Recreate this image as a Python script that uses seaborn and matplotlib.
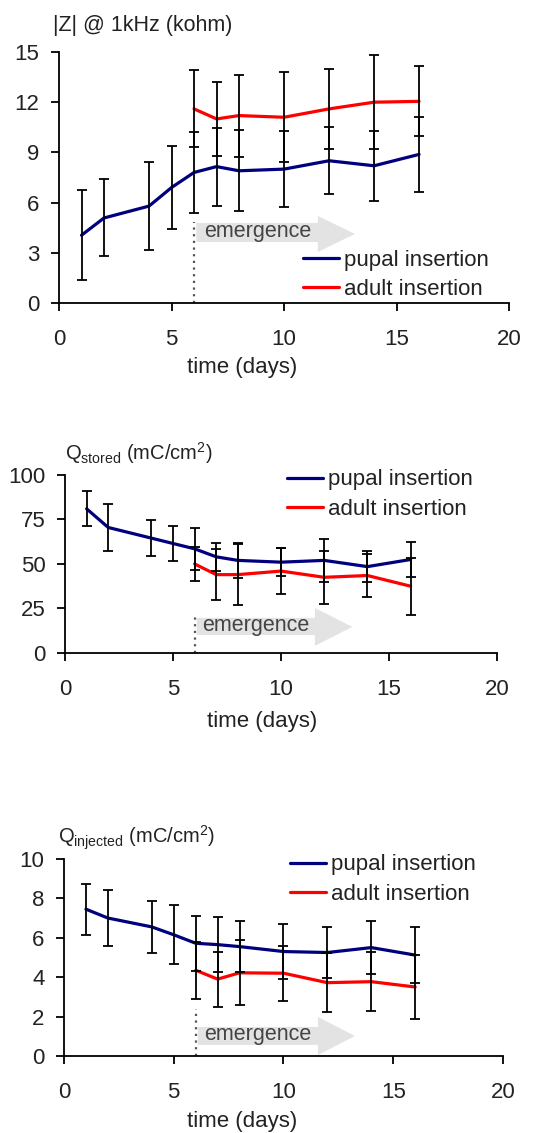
import matplotlib
matplotlib.use("Agg")
import matplotlib.pyplot as plt
import seaborn as sns
from matplotlib.patches import Polygon
import matplotlib.transforms as mtransforms

# ---------------- data ----------------
days_pupal = [1, 2, 4, 5, 6, 7, 8, 10, 12, 14, 16]
days_adult = [6, 7, 8, 10, 12, 14, 16]

z_pupal = [4.05, 5.08, 5.79, 6.9, 7.8, 8.15, 7.9, 8.0, 8.5, 8.2, 8.88]
z_pupal_err = [2.7, 2.3, 2.64, 2.5, 2.4, 2.33, 2.42, 2.25, 2.0, 2.1, 2.23]
z_adult = [11.6, 11.0, 11.2, 11.1, 11.6, 12.0, 12.05]
z_adult_err = [2.3, 2.2, 2.45, 2.7, 2.4, 2.8, 2.1]

qs_pupal = [81, 70.5, 64.5, 61.5, 58.5, 54, 52, 51, 52, 48.5, 52.5]
qs_pupal_err = [9.8, 13.4, 10.2, 9.7, 11.8, 8, 10, 8, 12, 8.5, 10]
qs_adult = [50, 44, 44, 46, 42.5, 43.5, 37.5]
qs_adult_err = [9.5, 14.5, 17, 13, 15, 12, 16]

qi_pupal = [7.45, 7.0, 6.55, 6.15, 5.72, 5.65, 5.55, 5.3, 5.25, 5.5, 5.12]
qi_pupal_err = [1.3, 1.4, 1.3, 1.5, 1.4, 1.4, 1.3, 1.4, 1.3, 1.35, 1.4]
qi_adult = [4.35, 3.9, 4.22, 4.2, 3.72, 3.77, 3.5]
qi_adult_err = [1.45, 1.4, 1.65, 1.4, 1.5, 1.5, 1.6]

series_labels = ["pupal insertion", "adult insertion"]
x_ticks = [0, 5, 10, 15, 20]
x_label = "time (days)"
emergence_day = 6
emergence_label = "emergence"

# ---------------- style ----------------
sns.set_style("ticks")
plt.rcParams["font.family"] = ["Liberation Sans", "DejaVu Sans"]
plt.rcParams["mathtext.default"] = "regular"
plt.rcParams["axes.linewidth"] = 1.3
FS = 16
BLUE = "#00007f"
RED = "#ff0000"
TXT = "#222222"

fig = plt.figure(figsize=(5.39, 11.33), dpi=100)

panels = [
    dict(rect=[0.1095, 0.7326, 0.835, 0.2215], yp=z_pupal, ype=z_pupal_err,
         ya=z_adult, yae=z_adult_err, yticks=[0, 3, 6, 9, 12, 15],
         ylabel="|Z| @ 1kHz (kohm)", ylab_pos=(53 / 539, 1 - 25 / 1133), ylab_fs=15.5,
         xlab_x=0.407, xlab_dy=65, leg=(0.542, 0.175),
         arrow=dict(body=(0.243, 0.319), head=(0.203, 0.347), dot=0.323, text_y=0.283,
                    text_x=6.45, head_x=11.5, end_x=13.15)),
    dict(rect=[0.1206, 0.4237, 0.8015, 0.1571], yp=qs_pupal, ype=qs_pupal_err,
         ya=qs_adult, yae=qs_adult_err, yticks=[0, 25, 50, 75, 100],
         ylabel="Q$_{stored}$ (mC/cm$^{2}$)", ylab_pos=(65 / 539, 1 - 453 / 1133), ylab_fs=14.5,
         xlab_x=0.456, xlab_dy=69, leg=(0.514, 0.978),
         arrow=dict(body=(0.101, 0.197), head=(0.04, 0.253), dot=0.2, text_y=0.157,
                    text_x=6.35, head_x=11.57, end_x=13.3)),
    dict(rect=[0.1187, 0.068, 0.8145, 0.1739], yp=qi_pupal, ype=qi_pupal_err,
         ya=qi_adult, yae=qi_adult_err, yticks=[0, 2, 4, 6, 8, 10],
         ylabel="Q$_{injected}$ (mC/cm$^{2}$)", ylab_pos=(58 / 539, 1 - 838 / 1133), ylab_fs=14.5,
         xlab_x=0.405, xlab_dy=66, leg=(0.515, 0.975),
         arrow=dict(body=(0.056, 0.147), head=(0.005, 0.198), dot=0.24, text_y=0.107,
                    text_x=6.4, head_x=11.57, end_x=13.26)),
]

for p in panels:
    ax = fig.add_axes(p["rect"])
    ax.set_facecolor("white")
    # emergence arrow (annotation)
    a = p["arrow"]
    trans = mtransforms.blended_transform_factory(ax.transData, ax.transAxes)
    b0, b1 = a["body"]
    h0, h1 = a["head"]
    x0 = emergence_day + 0.1
    poly = Polygon([(x0, b0), (a["head_x"], b0), (a["head_x"], h0),
                    (a["end_x"], (h0 + h1) / 2), (a["head_x"], h1), (a["head_x"], b1), (x0, b1)],
                   closed=True, transform=trans, facecolor="#e3e3e3", edgecolor="none", zorder=1)
    ax.add_patch(poly)
    ax.plot([emergence_day, emergence_day], [0, a["dot"]], transform=trans,
            color="#555555", lw=1.6, ls=(0, (1, 2)), zorder=2)
    ax.text(a["text_x"], a["text_y"], emergence_label, transform=trans, fontsize=15.5,
            color="#444444", va="center", ha="left", zorder=3)

    sns.lineplot(x=days_pupal, y=p["yp"], ax=ax, color=BLUE, lw=2.3,
                 label=series_labels[0], errorbar=None, zorder=4)
    sns.lineplot(x=days_adult, y=p["ya"], ax=ax, color=RED, lw=2.3,
                 label=series_labels[1], errorbar=None, zorder=4)
    ax.errorbar(days_pupal, p["yp"], yerr=p["ype"], fmt="none", ecolor="black",
                elinewidth=1.3, capsize=3.8, capthick=1.3, zorder=5)
    ax.errorbar(days_adult, p["ya"], yerr=p["yae"], fmt="none", ecolor="black",
                elinewidth=1.3, capsize=3.8, capthick=1.3, zorder=5)

    ax.set_xlim(0, 20)
    ax.set_ylim(p["yticks"][0], p["yticks"][-1])
    ax.set_xticks(x_ticks)
    ax.set_yticks(p["yticks"])
    ax.tick_params(axis="both", labelsize=FS, length=5.5, width=1.3, color="black",
                   labelcolor=TXT)
    ax.tick_params(axis="x", pad=13.5)
    ax.tick_params(axis="y", pad=8.5)
    sns.despine(ax=ax)
    for s in ["left", "bottom"]:
        ax.spines[s].set_color("black")
    ax.set_xlabel(x_label, fontsize=FS, color=TXT)
    h_px = p["rect"][3] * 1133
    ax.xaxis.set_label_coords(p["xlab_x"], -p["xlab_dy"] / h_px)
    ax.xaxis.label.set_va("center")
    ax.set_ylabel("")
    fig.text(p["ylab_pos"][0], p["ylab_pos"][1], p["ylabel"], fontsize=p["ylab_fs"],
             color=TXT, ha="left", va="center")

    # legend
    row_half = 9.5 / h_px
    lx, ly = p["leg"]
    leg = ax.legend(loc="upper left", bbox_to_anchor=(lx, ly + row_half), frameon=False,
                    fontsize=FS, handlelength=1.62, handletextpad=0.22, labelspacing=0.37,
                    borderpad=0, borderaxespad=0)
    for t in leg.get_texts():
        t.set_color(TXT)

fig.savefig("out.png", dpi=100)
